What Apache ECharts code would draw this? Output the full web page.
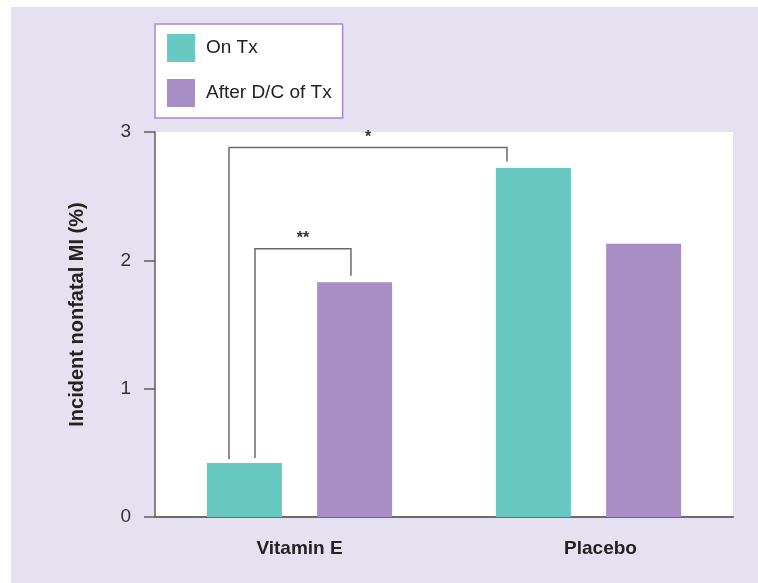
<!DOCTYPE html>
<html>
<head>
<meta charset="utf-8">
<style>
  html, body { margin: 0; padding: 0; background: #ffffff; }
  #chart { width: 758px; height: 583px; }
</style>
<script src="https://cdn.jsdelivr.net/npm/echarts@6/dist/echarts.min.js"></script>
</head>
<body>
<div id="chart"></div>
<script>
// Incidence of nonfatal MI while on treatment and after stopping treatment
const categories = ['Vitamin E', 'Placebo'];
const seriesNames = ['On Tx', 'After D/C of Tx'];
const onTx = [0.42, 2.72];
const afterDC = [1.83, 2.13];
const yTickValues = [0, 1, 2, 3];

// Significance brackets: marker text, start/end category, leg end levels and top level
const bracketMarks = ['*', '**'];
const bracketFromCat = [0, 0];
const bracketToCat = [1, 0];
const bracketTop = [2.88, 2.09];
const bracketLeftEnd = [0.45, 0.46];
const bracketRightEnd = [2.77, 1.88];

const FONT = '"Liberation Sans", Arial, Helvetica, sans-serif';
const TEAL = '#68c8c2';
const PURPLE = '#a78fc6';
const LINE = '#6a6a6a';

// Leg positions, as a fraction of the category band, relative to the band centre
const legOffsets = [[-0.244, -0.282], [-0.154, 0.178]];

const chart = echarts.init(document.getElementById('chart'), null, { renderer: 'canvas' });

const option = {
  backgroundColor: '#ffffff',
  animation: false,
  textStyle: { fontFamily: FONT },
  graphic: [{
    type: 'rect',
    z: -10,
    silent: true,
    shape: { x: 11, y: 7, width: 758, height: 583 },
    style: { fill: '#e6e1f0' }
  }],
  legend: {
    data: seriesNames,
    orient: 'vertical',
    left: 155,
    top: 24,
    backgroundColor: '#ffffff',
    borderColor: '#a48ccd',
    borderWidth: 1.5,
    borderRadius: 0,
    padding: [10, 11, 11, 12],
    itemWidth: 28,
    itemHeight: 28,
    itemGap: 17,
    icon: 'rect',
    selectedMode: false,
    textStyle: { fontFamily: FONT, fontSize: 19, color: '#222', padding: [0, 0, 0, 6] }
  },
  grid: {
    left: 155,
    right: 25,
    top: 132,
    bottom: 66,
    show: true,
    backgroundColor: '#ffffff',
    borderWidth: 0
  },
  xAxis: {
    type: 'category',
    data: categories,
    axisTick: { show: false },
    axisLine: { lineStyle: { color: '#6b6b6b', width: 2 } },
    axisLabel: {
      margin: 22,
      fontFamily: FONT,
      fontSize: 19,
      fontWeight: 'bold',
      color: '#222',
      formatter: function (v, i) { return i === 1 ? '{p|' + v + '}' : v; },
      rich: { p: { fontFamily: FONT, fontSize: 19, fontWeight: 'bold', color: '#222', padding: [0, 0, 0, 24] } }
    }
  },
  yAxis: {
    type: 'value',
    min: yTickValues[0],
    max: yTickValues[yTickValues.length - 1],
    interval: 1,
    name: 'Incident nonfatal MI (%)',
    nameLocation: 'middle',
    nameGap: 68,
    nameTextStyle: { fontFamily: FONT, fontSize: 20, fontWeight: 'bold', color: '#222', padding: [0, 0, 0, 20] },
    axisLine: { show: true, lineStyle: { color: '#5e5e5e', width: 1.5 } },
    axisTick: { show: true, length: 11, lineStyle: { color: '#5e5e5e', width: 1.5 } },
    axisLabel: { margin: 24, fontFamily: FONT, fontSize: 19, color: '#333' },
    splitLine: { show: false }
  },
  series: [
    {
      name: seriesNames[0],
      type: 'bar',
      data: onTx,
      barWidth: 75,
      barGap: '47%',
      itemStyle: { color: TEAL }
    },
    {
      name: seriesNames[1],
      type: 'bar',
      data: afterDC,
      barWidth: 75,
      barGap: '47%',
      itemStyle: { color: PURPLE }
    },
    {
      type: 'custom',
      name: 'brackets',
      silent: true,
      clip: false,
      z: 5,
      encode: { x: 0, y: 1 },
      data: bracketTop.map(function (v, i) { return [bracketFromCat[i], v]; }),
      renderItem: function (params, api) {
        const i = params.dataIndex;
        const band = api.size([1, 0])[0];
        const a = api.coord([bracketFromCat[i], bracketLeftEnd[i]]);
        const b = api.coord([bracketToCat[i], bracketRightEnd[i]]);
        const topY = api.coord([bracketFromCat[i], bracketTop[i]])[1];
        const x0 = a[0] + legOffsets[i][0] * band;
        const x1 = b[0] + legOffsets[i][1] * band;
        return {
          type: 'group',
          children: [
            {
              type: 'polyline',
              shape: { points: [[x0, a[1]], [x0, topY], [x1, topY], [x1, b[1]]] },
              style: { stroke: LINE, lineWidth: 1.5, fill: null }
            },
            {
              type: 'text',
              style: {
                x: (x0 + x1) / 2,
                y: topY - 2,
                text: bracketMarks[i],
                align: 'center',
                verticalAlign: 'bottom',
                font: 'bold 16px ' + FONT,
                fill: '#333'
              }
            }
          ]
        };
      }
    }
  ]
};

chart.setOption(option);
</script>
</body>
</html>
